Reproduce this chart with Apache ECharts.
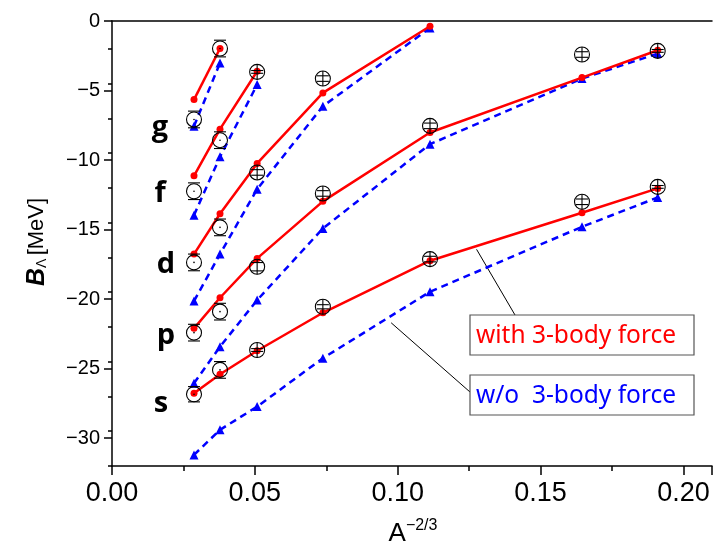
<!DOCTYPE html>
<html><head><meta charset="utf-8">
<script src="https://cdn.jsdelivr.net/npm/echarts@6/dist/echarts.min.js"></script>
<style>html,body{margin:0;padding:0;background:#fff}#c{width:713px;height:553px}</style>
</head><body><div id="c"></div>
<script>
// x positions (A^-2/3) of the hypernuclei columns
const xA = [0.0287, 0.0378, 0.0508, 0.0738, 0.1113, 0.1645, 0.1910];
const groups = ['s', 'p', 'd', 'f', 'g'];
// with 3-body force (red, solid)
const with3_s = [-26.77, -25.40, -23.71, -20.98, -17.24, -13.79, -12.04];
const with3_p = [-22.10, -19.90, -17.07, -12.97, -8.02, -4.07, -2.10];
const with3_d = [-16.76, -13.86, -10.24, -5.17, -0.38];
const with3_f = [-11.13, -7.78, -3.61];
const with3_g = [-5.65, -1.98];
// without 3-body force (blue, dashed)
const wo3_s = [-31.20, -29.40, -27.73, -24.25, -19.47, -14.80, -12.69];
const wo3_p = [-26.05, -23.42, -20.07, -14.92, -8.86, -4.14, -2.34];
const wo3_d = [-20.14, -16.76, -12.09, -6.13, -0.50];
const wo3_f = [-13.96, -9.77, -4.57];
const wo3_g = [-7.56, -3.02];
// experiment (open circles) and errors
const exp_s = [-26.84, -25.09, -23.66, -20.55, -17.12, -13.00, -11.93];
const exp_p = [-22.41, -20.90, -17.67, -12.40, -7.54, -2.41, -2.15];
const exp_d = [-17.36, -14.84, -10.89, -4.14];
const exp_f = [-12.24, -8.57, -3.66];
const exp_g = [-7.08, -1.98];
const err_s = [0.55, 0.6, 0.1, 0.15, 0.2, 0.2, 0.1];
const err_p = [0.6, 0.6, 0.3, 0.2, 0.2, 0.2, 0.1];
const err_d = [0.6, 0.6, 0.2, 0.2];
const err_f = [0.6, 0.6, 0.1];
const err_g = [0.6, 0.6];
const xTicks = [0, 0.05, 0.10, 0.15, 0.20];
const yTicks = [-30, -25, -20, -15, -10, -5, 0];

const W3 = {s: with3_s, p: with3_p, d: with3_d, f: with3_f, g: with3_g};
const WO = {s: wo3_s, p: wo3_p, d: wo3_d, f: wo3_f, g: wo3_g};
const EX = {s: exp_s, p: exp_p, d: exp_d, f: exp_f, g: exp_g};
const ER = {s: err_s, p: err_p, d: err_d, f: err_f, g: err_g};

const series = [];
groups.forEach(g => {
  series.push({
    type: 'line', name: 'wo_' + g, data: WO[g].map((v, i) => [xA[i], v]),
    symbol: 'triangle', symbolSize: 9, itemStyle: {color: '#0000ff'},
    lineStyle: {color: '#0000ff', width: 2.5, type: [7, 5]}, z: 2, animation: false
  });
});
groups.forEach(g => {
  series.push({
    type: 'line', name: 'w3_' + g, data: W3[g].map((v, i) => [xA[i], v]),
    symbol: 'circle', symbolSize: 7, itemStyle: {color: '#ff0000'},
    lineStyle: {color: '#ff0000', width: 2.5}, z: 3, animation: false
  });
});
const expData = [];
groups.forEach(g => EX[g].forEach((v, i) => expData.push([xA[i], v, ER[g][i]])));
series.push({
  type: 'custom', name: 'exp', data: expData, z: 4, clip: false, animation: false,
  renderItem: function (params, api) {
    const x = api.value(0), y = api.value(1), e = api.value(2);
    const c = api.coord([x, y]);
    const t = api.coord([x, y + e])[1], b = api.coord([x, y - e])[1];
    const r = 7.5;
    const st = {stroke: '#000', lineWidth: 1.1, fill: null};
    const small = e < 0.4;
    const children = [
      {type: 'circle', shape: {cx: c[0], cy: c[1], r: r}, style: {stroke: '#000', lineWidth: 1.1, fill: 'rgba(0,0,0,0)'}},
      {type: 'line', shape: {x1: c[0] - 6, y1: t, x2: c[0] + 6, y2: t}, style: st},
      {type: 'line', shape: {x1: c[0] - 6, y1: b, x2: c[0] + 6, y2: b}, style: st}
    ];
    if (small) {
      children.push({type: 'line', shape: {x1: c[0], y1: c[1] - r, x2: c[0], y2: c[1] + r}, style: st});
    } else {
      children.push({type: 'circle', shape: {cx: c[0], cy: c[1], r: 0.8}, style: {fill: '#000'}});
    }
    return {type: 'group', children: children};
  }
});

const chart = echarts.init(document.getElementById('c'), null, {renderer: 'canvas'});
const axisLine = {show: true, lineStyle: {color: '#000', width: 1.5}};
chart.setOption({
  backgroundColor: '#fff',
  animation: false,
  grid: {left: 112, right: 1, top: 21, bottom: 87, containLabel: false},
  xAxis: [{
    type: 'value', min: 0, max: 0.21, interval: 0.05,
    axisLine: Object.assign({onZero: false}, axisLine),
    axisTick: {show: true, inside: false, length: 9, lineStyle: {color: '#000', width: 1.5}},
    minorTick: {show: true, splitNumber: 2, length: 5, lineStyle: {color: '#000', width: 1.5}},
    splitLine: {show: false},
    axisLabel: {margin: 14, color: '#000', fontSize: 27, fontFamily: 'Liberation Sans Narrow, Liberation Sans, sans-serif',
      customValues: xTicks, formatter: v => v.toFixed(2)}
  }, {
    type: 'value', position: 'top', min: 0, max: 0.21,
    axisLine: Object.assign({onZero: false}, axisLine), axisTick: {show: false}, axisLabel: {show: false}, splitLine: {show: false}
  }],
  yAxis: [{
    type: 'value', min: -32, max: 0, interval: 2.5,
    axisLine: Object.assign({onZero: false}, axisLine),
    axisTick: {show: true, inside: false, length: 8, lineStyle: {color: '#000', width: 1.5}, customValues: yTicks},
    minorTick: {show: false},
    splitLine: {show: false},
    axisLabel: {margin: 12, color: '#000', fontSize: 20, fontFamily: 'Liberation Sans, sans-serif',
      customValues: yTicks, formatter: v => String(v).replace('-', '\u2212')}
  }, {
    type: 'value', position: 'left', min: -32, max: 0, interval: 2.5,
    axisLine: {show: false}, axisLabel: {show: false}, splitLine: {show: false},
    axisTick: {show: true, length: 4, lineStyle: {color: '#000', width: 1.5}}
  }],
  series: series
});

const P = (x, y) => chart.convertToPixel({xAxisIndex: 0, yAxisIndex: 0}, [x, y]);
const redAnchor = P(0.1276, -16.42);
const blueAnchor = P(0.0977, -21.70);
const lab = (t, x, y) => ({type: 'text', x: x, y: y, style: {text: t, font: 'bold 29px "Open Sans", sans-serif', fill: '#000', textAlign: 'center', textVerticalAlign: 'middle'}});
chart.setOption({
  graphic: [
    lab('g', 160, 128), lab('f', 160, 194), lab('d', 166, 265), lab('p', 166, 336), lab('s', 161, 404),
    {type: 'line', shape: {x1: redAnchor[0], y1: redAnchor[1], x2: 515, y2: 315}, style: {stroke: '#000', lineWidth: 1}},
    {type: 'line', shape: {x1: blueAnchor[0], y1: blueAnchor[1], x2: 470, y2: 392}, style: {stroke: '#000', lineWidth: 1}},
    {type: 'rect', shape: {x: 470, y: 315, width: 224, height: 40}, style: {fill: '#fff', stroke: '#555', lineWidth: 1.2}},
    {type: 'text', x: 476, y: 336, style: {text: 'with 3-body force', font: '24.5px "Noto Sans", sans-serif', fill: '#ff0000', textAlign: 'left', textVerticalAlign: 'middle'}},
    {type: 'rect', shape: {x: 470, y: 375, width: 224, height: 40}, style: {fill: '#fff', stroke: '#555', lineWidth: 1.2}},
    {type: 'text', x: 476, y: 396, style: {text: 'w/o  3-body force', font: '24.5px "Noto Sans", sans-serif', fill: '#0000ff', textAlign: 'left', textVerticalAlign: 'middle'}},
    {type: 'text', x: 37, y: 242, rotation: Math.PI / 2, style: {
      text: '{b|B}{sub|\u039b} {n|[MeV]}', textAlign: 'center', textVerticalAlign: 'middle',
      rich: {b: {font: 'italic bold 25px "Liberation Sans", sans-serif', fill: '#000'},
        sub: {font: '14px "Liberation Sans", sans-serif', fill: '#000', padding: [10, 0, 0, 0]},
        n: {font: '22px "Liberation Sans", sans-serif', fill: '#000'}}
    }},
    {type: 'text', x: 413, y: 534, style: {
      text: '{a|A}{s|\u22122/3}', textAlign: 'center', textVerticalAlign: 'middle',
      rich: {a: {font: '26px "Liberation Sans Narrow", "Liberation Sans", sans-serif', fill: '#000'},
        s: {font: '16px "Liberation Sans Narrow", "Liberation Sans", sans-serif', fill: '#000', padding: [0, 0, 16, 0]}}
    }}
  ]
});
</script></body></html>
